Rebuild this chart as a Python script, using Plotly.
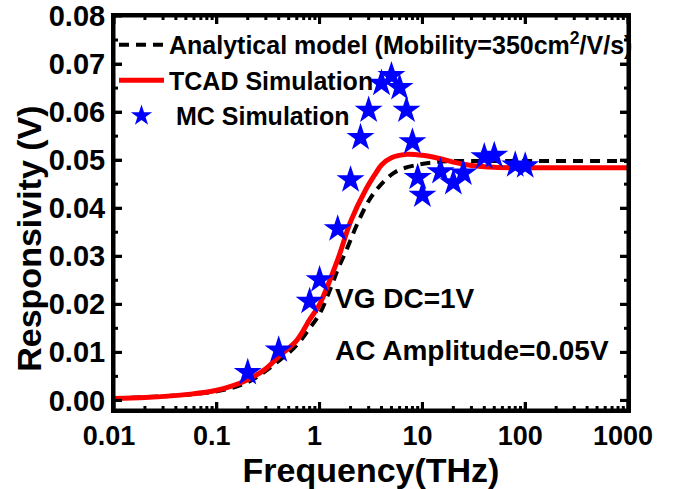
import math
import plotly.graph_objects as go

# Monte Carlo simulation points (frequency in THz, responsivity in V)
freq_mc = [0.2, 0.4, 0.8, 1.0, 1.5, 2.0, 2.5, 3.0, 4.0, 5.0, 6.0, 7.0,
           8.0, 9.0, 10, 15, 20, 25, 40, 50, 80, 100]
resp_mc = [0.0058, 0.0105, 0.0206, 0.0251, 0.0357, 0.0459, 0.0547, 0.0604,
           0.0660, 0.0676, 0.0651, 0.0604, 0.0538, 0.0464, 0.0427, 0.0476,
           0.0453, 0.0473, 0.0507, 0.0510, 0.0490, 0.0488]

# TCAD simulation curve
freq_tcad = [0.01, 0.02, 0.05, 0.1, 0.2, 0.3, 0.4, 0.6, 0.8, 1.0, 1.5, 2.0,
             2.8, 3.5, 4.0, 5.0, 7.0, 10, 15, 20, 30, 50, 100, 1000]
resp_tcad = [0.0004, 0.0006, 0.0012, 0.0021, 0.0043, 0.0066, 0.0091, 0.0125,
             0.0168, 0.0200, 0.0293, 0.0372, 0.0438, 0.0472, 0.0490, 0.0505,
             0.0512, 0.0510, 0.0503, 0.0496, 0.0489, 0.0485, 0.0484, 0.0484]

# Analytical model curve
freq_model = [0.01, 0.1, 0.2, 0.4, 0.6, 0.8, 1.0, 1.3, 1.5, 1.8, 2.3, 3.0,
              3.8, 5.5, 9.3, 14, 20, 50, 100, 1000]
resp_model = [0.0004, 0.0019, 0.0038, 0.0082, 0.0115, 0.0150, 0.0180, 0.0237,
              0.0272, 0.0310, 0.0365, 0.0415, 0.0445, 0.0476, 0.0491, 0.0496,
              0.0498, 0.0498, 0.0498, 0.0498]

x_ticks = [0.01, 0.1, 1, 10, 100, 1000]
x_tick_text = ["0.01", "0.1", "1", "10", "100", "1000"]
y_ticks = [0.00, 0.01, 0.02, 0.03, 0.04, 0.05, 0.06, 0.07, 0.08]
y_tick_text = ["0.00", "0.01", "0.02", "0.03", "0.04", "0.05", "0.06", "0.07", "0.08"]

FONT = "Liberation Sans, Arial, Helvetica, sans-serif"
X_LOG_MIN, X_LOG_MAX = -2, 3
Y_MIN, Y_MAX = -0.002, 0.08

fig = go.Figure()

fig.add_trace(go.Scatter(
    x=freq_model, y=resp_model, mode="lines", line_shape="spline",
    name="Analytical model (Mobility=350cm<sup>2</sup>/V/s)",
    line=dict(color="black", width=4, dash="10px,7px"),
    legendgroup="a",
))
fig.add_trace(go.Scatter(
    x=freq_tcad, y=resp_tcad, mode="lines", line_shape="spline",
    name="TCAD Simulation",
    line=dict(color="#ff0000", width=5),
    legendgroup="b",
))
fig.add_trace(go.Scatter(
    x=freq_mc, y=resp_mc, mode="markers",
    name="\u00a0MC Simulation",
    marker=dict(symbol="star", size=21, color="#0000ff", line=dict(width=0)),
    legendgroup="c",
))

axis_common = dict(
    showline=True, linecolor="#000000", linewidth=3, mirror="allticks",
    ticks="inside", ticklen=8, tickwidth=3, tickcolor="#000000",
    showgrid=False, zeroline=False, automargin=False,
)

fig.update_xaxes(
    type="log", range=[X_LOG_MIN, X_LOG_MAX],
    tickmode="array", tickvals=x_ticks, ticktext=x_tick_text,
    tickfont=dict(family=FONT, size=27, color="black", weight="bold"),
    title=dict(text="Frequency(THz)", standoff=4,
               font=dict(family=FONT, size=34, color="black", weight="bold")),
    ticklabelstandoff=0, ticklabelshift=-5,
    **axis_common,
)
fig.update_yaxes(
    range=[Y_MIN, Y_MAX],
    tickmode="array", tickvals=y_ticks, ticktext=y_tick_text,
    tickfont=dict(family=FONT, size=29, color="black", weight="bold"),
    ticklabelstandoff=0,
    **axis_common,
)

# Frame and tick marks as layout shapes (major and minor, mirrored on all sides)
frame = dict(color="#000000", width=3)
shapes = [dict(type="rect", xref="paper", yref="paper", x0=0, x1=1, y0=0, y1=1,
               line=frame, layer="above")]

minor_x = [m * 10.0 ** e for e in range(X_LOG_MIN, X_LOG_MAX) for m in range(2, 10)]
for vals, length in ((x_ticks, 8), (minor_x, 4)):
    for v in vals:
        px = (math.log10(v) - X_LOG_MIN) / (X_LOG_MAX - X_LOG_MIN)
        for anchor, sign in ((0, 1), (1, -1)):
            shapes.append(dict(type="line", xref="paper", yref="paper",
                               ysizemode="pixel", yanchor=anchor,
                               x0=px, x1=px, y0=0, y1=sign * length,
                               line=frame, layer="above"))

minor_y = [0.005 * i for i in range(1, 17, 2)]
for vals, length in ((y_ticks, 8), (minor_y, 4)):
    for v in vals:
        for anchor, sign in ((0, 1), (1, -1)):
            shapes.append(dict(type="line", xref="paper", yref="y",
                               xsizemode="pixel", xanchor=anchor,
                               x0=0, x1=sign * length, y0=v, y1=v,
                               line=frame, layer="above"))

fig.add_annotation(
    x=-0.167, y=0.435, xref="paper", yref="paper", xanchor="center", yanchor="middle",
    text="Responsivity (V)", textangle=-90, showarrow=False,
    font=dict(family=FONT, size=34, color="black", weight="bold"),
)
fig.add_annotation(
    x=0.4255, y=0.284, xref="paper", yref="paper", xanchor="left", yanchor="middle",
    text="VG DC=1V", showarrow=False,
    font=dict(family=FONT, size=28, color="black", weight="bold"),
)
fig.add_annotation(
    x=0.4255, y=0.152, xref="paper", yref="paper", xanchor="left", yanchor="middle",
    text="AC Amplitude=0.05V", showarrow=False,
    font=dict(family=FONT, size=28, color="black", weight="bold"),
)

fig.update_layout(
    template="none",
    width=677, height=489,
    margin=dict(l=114, r=49, t=16, b=79),
    paper_bgcolor="white", plot_bgcolor="rgba(0,0,0,0)",
    shapes=shapes,
    showlegend=True,
    legend=dict(
        x=0.0, y=0.985, xanchor="left", yanchor="top",
        bgcolor="rgba(0,0,0,0)", borderwidth=0,
        font=dict(family=FONT, size=25, color="black", weight="bold"),
        itemwidth=45, tracegroupgap=0,
    ),
)

fig.write_html("out.html")
